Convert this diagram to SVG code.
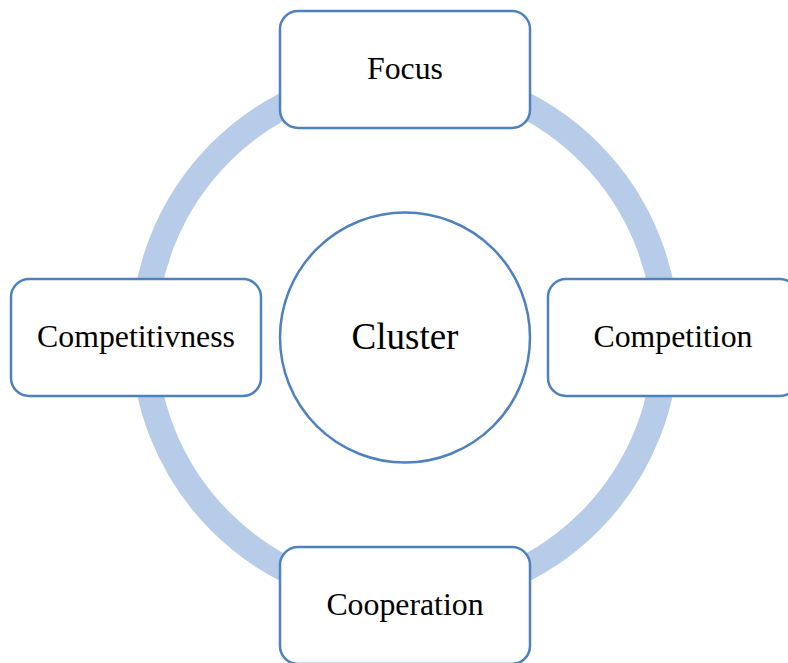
<svg xmlns="http://www.w3.org/2000/svg" width="788" height="663" viewBox="0 0 788 663">
<style>
.box{fill:#ffffff;stroke:#4F81BD;stroke-width:2.5}
.ring{fill:none;stroke:#B7CCE8;stroke-width:26}
.lbl{font-family:"Liberation Serif","Times New Roman",serif;font-size:31.8px;fill:#000;text-anchor:middle}
.big{font-size:37px}
</style>
<rect width="788" height="663" fill="#ffffff"/>
<g id="connectors">
<circle class="ring" cx="405" cy="337" r="261"/>
</g>
<g id="focus">
<rect class="box" x="280" y="11" width="250" height="117" rx="18"/>
<text class="lbl" x="405" y="79">Focus</text>
</g>
<g id="competitivness">
<rect class="box" x="11" y="279" width="250" height="117" rx="18"/>
<text class="lbl" x="136" y="347">Competitivness</text>
</g>
<g id="competition">
<rect class="box" x="548" y="279" width="250" height="117" rx="18"/>
<text class="lbl" x="673" y="347">Competition</text>
</g>
<g id="cooperation">
<rect class="box" x="280" y="547" width="250" height="117" rx="18"/>
<text class="lbl" x="405" y="615">Cooperation</text>
</g>
<g id="cluster">
<circle class="box" cx="405" cy="337.5" r="125"/>
<text class="lbl big" x="405" y="349">Cluster</text>
</g>
</svg>
